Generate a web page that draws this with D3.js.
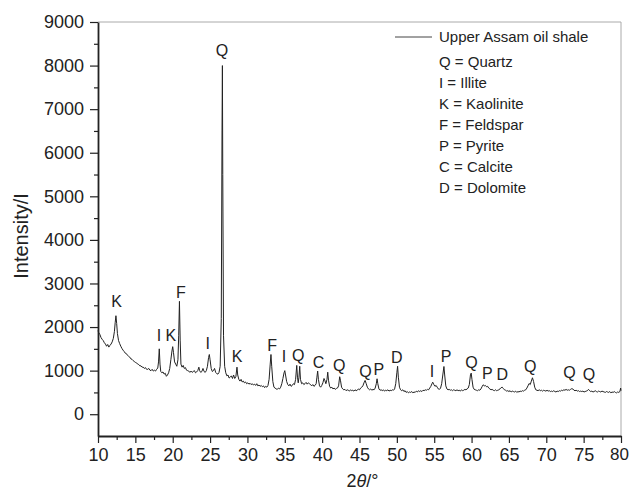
<!DOCTYPE html>
<html>
<head>
<meta charset="utf-8">
<script src="https://cdn.jsdelivr.net/npm/d3@7"></script>
<style>
  body { margin: 0; background: #fff; }
  svg text { font-family: "Liberation Sans", Arial, Helvetica, sans-serif; fill: #222; }
</style>
</head>
<body>
<svg id="chart" width="630" height="492"></svg>
<script>
// XRD pattern, [2theta, intensity]
const pattern = [
  [10.0,1920],[10.1,1870],[10.25,1830],[10.4,1760],[10.55,1720],[10.7,1690],[10.85,1640],[11.0,1610],[11.15,1560],[11.3,1600],[11.45,1540],[11.6,1580],[11.75,1610],[11.9,1660],[12.05,1740],[12.2,1900],[12.3,2100],[12.4,2260],[12.5,2080],[12.6,1850],[12.75,1690],[12.9,1620],[13.05,1560],[13.2,1510],[13.35,1470],[13.5,1440],[13.65,1400],[13.8,1390],[13.95,1350],[14.1,1330],[14.25,1310],[14.4,1270],[14.55,1260],[14.7,1230],[14.85,1210],[15.0,1190],[15.15,1180],[15.3,1150],[15.45,1140],[15.6,1110],[15.75,1110],[15.9,1080],[16.05,1080],[16.2,1050],[16.35,1070],[16.5,1030],[16.65,1030],[16.8,1050],[16.95,1010],[17.1,1000],[17.25,1030],[17.4,990],[17.55,1010],[17.7,990],[17.85,1030],[18.0,1060],[18.1,1200],[18.2,1500],[18.3,1150],[18.4,980],[18.55,950],[18.7,970],[18.85,920],[19.0,940],[19.15,870],[19.3,900],[19.45,950],[19.6,1050],[19.75,1250],[19.9,1450],[20.0,1550],[20.1,1420],[20.25,1200],[20.4,1150],[20.55,1100],[20.7,1250],[20.8,1800],[20.9,2590],[21.0,1700],[21.1,1150],[21.25,1080],[21.4,1120],[21.55,1050],[21.7,1070],[21.85,1010],[22.0,1000],[22.15,990],[22.3,960],[22.45,990],[22.6,960],[22.75,980],[22.9,1000],[23.05,950],[23.2,970],[23.35,1000],[23.5,1080],[23.6,1000],[23.75,960],[23.9,980],[24.05,1050],[24.2,980],[24.35,960],[24.5,1000],[24.65,1100],[24.8,1300],[24.9,1370],[25.0,1250],[25.15,1050],[25.3,980],[25.45,1000],[25.6,1050],[25.75,960],[25.9,930],[26.05,920],[26.2,960],[26.35,1100],[26.5,2200],[26.6,6500],[26.65,8000],[26.7,5500],[26.8,1800],[26.95,1100],[27.1,950],[27.25,880],[27.4,900],[27.55,830],[27.7,850],[27.85,880],[28.0,820],[28.15,900],[28.3,820],[28.45,860],[28.6,1080],[28.7,900],[28.85,800],[29.0,760],[29.15,800],[29.3,740],[29.45,760],[29.6,720],[29.75,740],[29.9,700],[30.05,720],[30.2,690],[30.35,710],[30.5,680],[30.65,700],[30.8,670],[30.95,690],[31.1,660],[31.25,700],[31.4,650],[31.55,670],[31.7,640],[31.85,660],[32.0,630],[32.15,650],[32.3,610],[32.45,640],[32.6,620],[32.75,660],[32.9,800],[33.05,1150],[33.15,1370],[33.25,1100],[33.4,750],[33.55,620],[33.7,600],[33.85,580],[34.0,570],[34.15,600],[34.3,580],[34.45,620],[34.6,700],[34.75,820],[34.9,950],[35.0,1000],[35.1,900],[35.25,750],[35.4,680],[35.55,650],[35.7,690],[35.85,640],[36.0,660],[36.15,700],[36.3,680],[36.45,800],[36.6,1120],[36.7,850],[36.8,720],[36.9,850],[37.0,1100],[37.1,800],[37.25,700],[37.4,720],[37.55,680],[37.7,700],[37.85,730],[38.0,690],[38.15,720],[38.3,700],[38.45,680],[38.6,650],[38.75,680],[38.9,640],[39.05,660],[39.2,700],[39.3,850],[39.4,990],[39.5,800],[39.65,650],[39.8,620],[39.95,660],[40.1,720],[40.25,820],[40.35,780],[40.5,700],[40.65,800],[40.75,965],[40.85,780],[41.0,640],[41.15,600],[41.3,620],[41.45,580],[41.6,600],[41.75,570],[41.9,590],[42.05,600],[42.2,650],[42.35,860],[42.45,780],[42.6,620],[42.75,580],[42.9,560],[43.05,570],[43.2,540],[43.35,560],[43.5,550],[43.65,530],[43.8,560],[43.95,540],[44.1,550],[44.25,530],[44.4,560],[44.55,540],[44.7,550],[44.85,580],[45.0,560],[45.15,600],[45.3,620],[45.45,650],[45.6,720],[45.75,775],[45.9,700],[46.05,620],[46.2,580],[46.35,560],[46.5,580],[46.65,550],[46.8,570],[46.95,560],[47.1,600],[47.25,700],[47.35,813],[47.45,700],[47.6,580],[47.75,550],[47.9,560],[48.05,540],[48.2,560],[48.35,530],[48.5,550],[48.65,540],[48.8,560],[48.95,530],[49.1,550],[49.25,540],[49.4,560],[49.55,550],[49.7,580],[49.85,700],[50.0,950],[50.1,1100],[50.2,850],[50.35,620],[50.5,560],[50.65,540],[50.8,560],[50.95,520],[51.1,540],[51.25,500],[51.4,520],[51.55,490],[51.7,510],[51.85,500],[52.0,520],[52.15,490],[52.3,510],[52.45,500],[52.6,530],[52.75,510],[52.9,540],[53.05,520],[53.2,540],[53.35,520],[53.5,550],[53.65,540],[53.8,560],[53.95,550],[54.1,570],[54.25,560],[54.4,600],[54.55,640],[54.7,700],[54.8,735],[54.95,680],[55.1,640],[55.25,660],[55.4,620],[55.55,580],[55.7,570],[55.85,600],[56.0,700],[56.15,900],[56.3,1095],[56.4,900],[56.55,650],[56.7,580],[56.85,560],[57.0,570],[57.15,550],[57.3,560],[57.45,540],[57.6,560],[57.75,550],[57.9,540],[58.05,560],[58.2,540],[58.35,550],[58.5,530],[58.65,560],[58.8,540],[58.95,550],[59.1,570],[59.25,560],[59.4,580],[59.55,600],[59.7,680],[59.85,900],[59.95,943],[60.05,800],[60.2,620],[60.35,570],[60.5,560],[60.65,550],[60.8,540],[60.95,560],[61.1,550],[61.25,580],[61.4,630],[61.55,675],[61.7,650],[61.85,660],[62.0,630],[62.15,640],[62.3,600],[62.45,580],[62.6,560],[62.75,570],[62.9,550],[63.05,540],[63.2,560],[63.35,540],[63.5,550],[63.65,560],[63.8,580],[63.95,610],[64.1,620],[64.25,590],[64.4,560],[64.55,550],[64.7,530],[64.85,540],[65.0,520],[65.15,540],[65.3,510],[65.45,530],[65.6,520],[65.75,510],[65.9,530],[66.05,500],[66.2,520],[66.35,510],[66.5,530],[66.65,520],[66.8,540],[66.95,530],[67.1,550],[67.25,560],[67.4,600],[67.55,650],[67.7,705],[67.85,680],[68.0,760],[68.15,836],[68.3,750],[68.45,620],[68.6,560],[68.75,550],[68.9,540],[69.05,560],[69.2,540],[69.35,550],[69.5,530],[69.65,550],[69.8,540],[69.95,530],[70.1,550],[70.25,530],[70.4,540],[70.55,520],[70.7,530],[70.85,520],[71.0,540],[71.15,520],[71.3,510],[71.45,530],[71.6,520],[71.75,540],[71.9,530],[72.05,550],[72.2,540],[72.35,560],[72.5,550],[72.65,570],[72.8,550],[72.95,560],[73.1,550],[73.25,570],[73.4,585],[73.55,580],[73.7,550],[73.85,540],[74.0,550],[74.15,530],[74.3,540],[74.45,520],[74.6,530],[74.75,520],[74.9,530],[75.05,510],[75.2,520],[75.35,530],[75.5,540],[75.65,570],[75.8,540],[75.95,520],[76.1,530],[76.25,510],[76.4,520],[76.55,540],[76.7,520],[76.85,510],[77.0,530],[77.15,520],[77.3,510],[77.45,530],[77.6,520],[77.75,510],[77.9,500],[78.05,520],[78.2,510],[78.35,500],[78.5,520],[78.65,490],[78.8,510],[78.95,500],[79.1,520],[79.25,500],[79.4,490],[79.55,510],[79.7,500],[79.85,520],[79.95,600],[80.0,540]
];

// peak labels: mineral letter, 2theta, intensity where the label sits
const peakLetters = ['K','I','K','F','I','Q','K','F','I','Q','C','Q','Q','P','D','I','P','Q','P','D','Q','Q','Q'];
const peakAngles  = [12.5,18.15,19.75,21.1,24.7,26.6,28.6,33.3,34.9,36.8,39.5,42.3,45.8,47.6,50.0,54.7,56.6,60.0,62.1,64.1,67.85,73.1,75.7];
const peakLevels  = [2450,1670,1670,2660,1490,8220,1190,1460,1190,1230,1070,1000,865,910,1165,865,1190,1070,800,775,960,820,775];

const legendTitle = 'Upper Assam oil shale';
const legendKeys = ['Q = Quartz','I = Illite','K = Kaolinite','F = Feldspar','P = Pyrite','C = Calcite','D = Dolomite'];

const xTicks = d3.range(10, 81, 5);
const yTicks = d3.range(0, 9001, 1000);

const svg = d3.select('#chart');
const margin = { left: 98, right: 621, top: 22, bottom: 436 };

const x = d3.scaleLinear().domain([10, 80]).range([margin.left, margin.right]);
const y = d3.scaleLinear().domain([-500, 9000]).range([margin.bottom, margin.top]);

// frame top & right (grey)
svg.append('path')
  .attr('d', `M${margin.left},${margin.top}H${margin.right}V${margin.bottom}`)
  .attr('fill', 'none').attr('stroke', '#aaa').attr('stroke-width', 1);

// minor ticks
svg.append('g').attr('transform', `translate(0,${margin.bottom})`)
  .call(d3.axisBottom(x).tickValues(d3.range(12.5, 80, 5)).tickSize(4).tickFormat(''))
  .call(g => g.select('.domain').remove())
  .selectAll('line').attr('stroke', '#222').attr('stroke-width', 1.2);
svg.append('g').attr('transform', `translate(${margin.left},0)`)
  .call(d3.axisLeft(y).tickValues(d3.range(500, 9000, 1000)).tickSize(4).tickFormat(''))
  .call(g => g.select('.domain').remove())
  .selectAll('line').attr('stroke', '#222').attr('stroke-width', 1.2);

const xAxis = svg.append('g').attr('transform', `translate(0,${margin.bottom})`)
  .call(d3.axisBottom(x).tickValues(xTicks).tickSize(7).tickPadding(5).tickSizeOuter(0));
const yAxis = svg.append('g').attr('transform', `translate(${margin.left},0)`)
  .call(d3.axisLeft(y).tickValues(yTicks).tickFormat(d3.format('d')).tickSize(8).tickPadding(6).tickSizeOuter(0));

[xAxis, yAxis].forEach(a => {
  a.select('.domain').attr('stroke', '#222').attr('stroke-width', 1.8);
  a.selectAll('.tick line').attr('stroke', '#222').attr('stroke-width', 1.2);
  a.selectAll('text').style('font-size', '18px').attr('fill', '#222');
});
// keep the last x label inside the canvas
xAxis.selectAll('.tick text').filter(d => d === 80).attr('dx', -2).style('font-size', '17px');

// the trace
const line = d3.line().x(d => x(d[0])).y(d => y(d[1]));
svg.append('path').datum(pattern)
  .attr('d', line)
  .attr('fill', 'none')
  .attr('stroke', '#222')
  .attr('stroke-width', 1)
  .attr('stroke-linejoin', 'round');

// peak letters
svg.selectAll('.peak').data(peakLetters).join('text')
  .attr('class', 'peak')
  .attr('x', (d, i) => x(peakAngles[i]))
  .attr('y', (d, i) => y(peakLevels[i]))
  .attr('text-anchor', 'middle')
  .style('font-size', '16px')
  .text(d => d);

// legend
const lg = svg.append('g');
lg.append('line').attr('x1', 395).attr('x2', 432).attr('y1', 37).attr('y2', 37)
  .attr('stroke', '#444').attr('stroke-width', 1);
lg.append('text').attr('x', 439).attr('y', 42).style('font-size', '15px').text(legendTitle);
lg.selectAll('.key').data(legendKeys).join('text')
  .attr('class', 'key')
  .attr('x', 439)
  .attr('y', (d, i) => 66.5 + i * 21)
  .style('font-size', '15px')
  .text(d => d);

// axis titles
svg.append('text')
  .attr('transform', 'translate(28,236) rotate(-90)')
  .attr('text-anchor', 'middle')
  .style('font-size', '20px')
  .text('Intensity/I');

const xt = svg.append('text')
  .attr('x', (margin.left + margin.right) / 2 + 3).attr('y', 487)
  .attr('text-anchor', 'middle')
  .style('font-size', '18px');
xt.append('tspan').text('2');
xt.append('tspan').style('font-style', 'italic').text('θ');
xt.append('tspan').text('/°');
</script>
</body>
</html>
